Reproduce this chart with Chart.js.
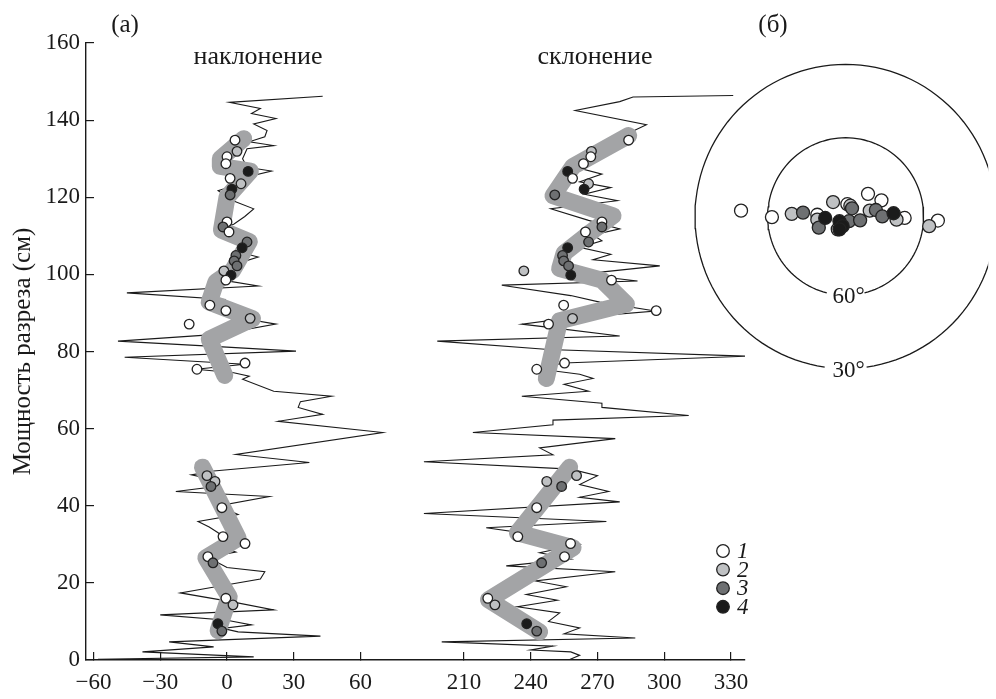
<!DOCTYPE html>
<html>
<head>
<meta charset="utf-8">
<script src="https://cdn.jsdelivr.net/npm/chart.js@4.4.1/dist/chart.umd.min.js"></script>
<style>
  html, body { margin: 0; padding: 0; background: #fff; }
  #wrap { position: relative; width: 996px; height: 699px; }
  #main { position: absolute; left: 0; top: 0; }
  #net { position: absolute; left: 660px; top: 0; }
</style>
</head>
<body>
<div id="wrap">
  <canvas id="main" width="996" height="699"></canvas>
  <canvas id="net" width="336" height="420"></canvas>
</div>
<script>
// --- inclination curve (depth cm, degrees)
const incDepth = [0.2, 0.8, 2.1, 3.4, 4.7, 6.2, 7.3, 8.2, 9.1, 10.3, 11.7, 13, 15, 17.4, 18.8, 21, 22.9, 24, 25.2, 26.5, 28, 29.5, 31, 33, 34.5, 35.9, 37.7, 39, 40.3, 42.4, 43.7, 45, 46.5, 48, 49, 51.2, 53.3, 59, 61.9, 63.7, 65.5, 67, 68.4, 69.7, 72.8, 73.6, 74.5, 75.4, 76.7, 78.5, 80.1, 81.2, 82.7, 84.5, 87.1, 88.5, 90, 92.5, 93.5, 95.2, 97, 98.5, 100.5, 102.5, 104.5, 106, 108, 110, 111.3, 113, 115, 117, 119, 121.7, 123, 125, 126.8, 127.8, 130, 132.6, 133.4, 134.4, 135.7, 137.3, 139, 140.4, 141.7, 143, 144.6, 146.2];
const incValue = [-58, 12, -38, -6, -26, 42, 5, -2, 11, 0, -30, 21, 3, -21, -7, 15, 17, 0, -4, -10, 4, -3, 0, -4, -8, -13, 5, 0, -1, 19, -23, -5, -4, -16, -6, 37, 4, 70, 23, 43, 32, 33, 47, 21, 7, 10, 3, -14, 8, -46, 31, -2, -49, -3, 22, 8, 5, -3, -1, -45, 14, -2, 4, 3, 14, 4, 8, 4, -5, 3, 8, 12, 3, -4, 3, 7, 20, 9, 7, 9, 21, 10, 17, 18, 12, 22, 11, 15, 1, 43];

// --- declination curve
const decDepth = [0, 1.2, 2.1, 2.6, 3.6, 4.7, 5.7, 6.8, 8.3, 10, 12.2, 13.8, 15.5, 17, 19, 20.5, 22.9, 24.4, 26.2, 27.8, 30, 32, 34.3, 35.9, 38, 41, 42.2, 43.7, 45.5, 47.8, 49.5, 51.4, 53.2, 55, 57.4, 59, 61, 62.2, 63.4, 65.5, 66.6, 68.4, 69.7, 71.5, 73, 74.1, 75.6, 77, 78.8, 80.5, 82.7, 84, 86, 87.1, 88.6, 90.5, 92.8, 94.5, 97.2, 98.3, 100, 102.2, 103.8, 105.2, 107, 108.7, 110.2, 111.8, 114, 117, 119.1, 120.8, 122.5, 124, 126, 127.5, 129.5, 132, 135, 138.8, 142.5, 144.8, 146, 146.4];
const decValue = [257, 262, 258, 240, 250, 200, 287, 255, 262, 248, 253, 234, 252, 238, 256, 242, 278, 229, 258, 244, 262, 248, 220, 274, 192, 280, 262, 275, 262, 270, 258, 192, 250, 244, 278, 214, 250, 250, 311, 272, 272, 236, 266, 255, 268, 262, 242, 255, 337, 248, 198, 280, 252, 236, 256, 296, 271, 258, 227, 288, 262, 298, 268, 276, 262, 272, 268, 280, 266, 249, 279, 264, 276, 262, 272, 262, 268, 272, 278, 292, 260, 280, 286, 331];

// --- smoothed trends (thick gray)
const incTrendUpperDepth = [135.2, 130, 128, 126.8, 120, 111.5, 108.5, 101, 98, 92.8, 88.5, 83.2, 73.8];
const incTrendUpper = [7.5, -3, -3, 10.5, 0, -2.5, 10, 2.5, -5, -8, 11.5, -8, -1];
const incTrendLowerDepth = [50, 31.6, 26.5, 16.4, 7.6];
const incTrendLower = [-11, 5, -9.5, 1, -4];
const decTrendUpperDepth = [136, 128, 120.4, 115.2, 110.5, 105.5, 101.5, 98.5, 92.3, 88, 73];
const decTrendUpper = [284, 259, 250, 277, 266, 255, 253, 272, 283, 253, 247];
const decTrendLowerDepth = [50, 33, 29.1, 15.6, 7.3];
const decTrendLower = [257.5, 234, 259, 221, 244];

// --- samples: depth, inclination, declination, group 1..4
const sampleDepth = [134.8, 131.9, 130.5, 128.7, 126.7, 124.9, 123.5, 122.1, 120.6, 113.6, 112.3, 111, 108.4, 106.9, 104.9, 103.5, 102.2, 100.9, 99.8, 98.5, 92, 90.6, 88.6, 87.1, 77, 75.4, 47.8, 46.3, 45, 39.5, 32, 30.2, 26.8, 25.2, 16, 14.3, 9.4, 7.5];
const sampleInc = [3.6, 4.5, 0, -0.5, 9.5, 1.4, 6.3, 2.2, 1.4, 0, -1.8, 0.9, 9, 6.8, 4, 3.2, 4.5, -1.4, 1.8, -0.5, -7.7, -0.5, 10.4, -17, 8.1, -13.5, -9, -5.4, -7.2, -2.3, -1.8, 8.1, -8.6, -6.3, -0.5, 2.7, -4.1, -2.3];
const sampleDec = [284, 267.3, 267, 263.7, 256.6, 258.8, 266, 264, 250.8, 272, 272, 264.6, 266, 256.6, 254.3, 254.8, 257, 236.9, 258, 276.3, 254.8, 296.4, 258.8, 248, 255.2, 242.7, 260.6, 247.2, 253.9, 242.7, 234.2, 257.9, 255.2, 244.9, 220.7, 223.9, 238.2, 242.7];
const sampleGroup = [1, 2, 1, 1, 4, 1, 2, 4, 3, 1, 3, 1, 3, 4, 3, 3, 3, 2, 4, 1, 1, 1, 2, 1, 1, 1, 2, 2, 3, 1, 1, 1, 1, 3, 1, 2, 4, 3];

// --- stereonet (equal-area units, x east, y north)
const netX = [-0.491, -0.346, -0.253, -0.2, -0.133, -0.133, -0.126, -0.096, -0.059, 0.008, 0.022, 0.03, -0.037, -0.029, -0.014, -0.029, 0.016, 0.068, 0.105, 0.168, 0.113, 0.142, 0.172, 0.225, 0.239, 0.277, 0.392, 0.433];
const netY = [0.027, -0.003, 0.012, 0.018, 0.008, -0.015, -0.052, -0.007, 0.067, 0.057, 0.05, 0.038, -0.06, -0.022, -0.045, -0.06, -0.022, -0.018, 0.105, 0.075, 0.027, 0.03, 0, 0.015, -0.015, -0.007, -0.045, -0.019];
const netGroup = [1, 1, 2, 3, 1, 2, 3, 4, 2, 1, 2, 3, 1, 4, 4, 4, 3, 3, 1, 1, 2, 3, 3, 4, 2, 1, 2, 1];
const netCircles = [60, 30];

const incTicks = [-60, -30, 0, 30, 60];
const decTicks = [210, 240, 270, 300, 330];
const groupLabels = ["1", "2", "3", "4"];
const groupColors = ["#ffffff", "#bfc1c3", "#6e7072", "#1b1b1b"];

const SERIF = "'Liberation Serif', 'Times New Roman', serif";
const INK = "#1a1a1a";
const DEC_SHIFT = 103.5; // declination panel sits on the same axis, shifted

function xy(vals, depths, shift) {
  return vals.map((v, i) => ({ x: v - shift, y: depths[i] }));
}

function trend(vals, depths, shift) {
  return {
    data: xy(vals, depths, shift),
    showLine: true,
    borderColor: "#a3a4a6",
    borderWidth: 17,
    borderCapStyle: "round",
    borderJoinStyle: "round",
    pointRadius: 0,
  };
}

function thin(vals, depths, shift) {
  return {
    data: xy(vals, depths, shift),
    showLine: true,
    borderColor: INK,
    borderWidth: 1.1,
    pointRadius: 0,
  };
}

function samples(vals, shift) {
  return {
    data: xy(vals, sampleDepth, shift),
    pointRadius: 4.8,
    pointBorderWidth: 1.3,
    pointBorderColor: "#222",
    pointBackgroundColor: sampleGroup.map((g) => groupColors[g - 1]),
  };
}

const labelsPlugin = {
  id: "labels",
  afterDraw(chart) {
    const ctx = chart.ctx;
    ctx.save();
    ctx.fillStyle = INK;
    ctx.textBaseline = "middle";
    ctx.textAlign = "center";
    ctx.font = "25px " + SERIF;
    ctx.fillText("(а)", 125, 25);
    ctx.font = "26px " + SERIF;
    ctx.fillText("наклонение", 258, 57);
    ctx.fillText("склонение", 595, 57);

    // legend
    groupLabels.forEach((lab, i) => {
      const y = 551 + i * 18.6;
      ctx.beginPath();
      ctx.arc(723, y, 6.3, 0, Math.PI * 2);
      ctx.fillStyle = groupColors[i];
      ctx.fill();
      ctx.lineWidth = 1.3;
      ctx.strokeStyle = "#222";
      ctx.stroke();
      ctx.fillStyle = INK;
      ctx.textAlign = "left";
      ctx.font = "italic 23px " + SERIF;
      ctx.fillText(lab, 737, y + 1);
    });
    ctx.restore();
  },
};

new Chart(document.getElementById("main"), {
  type: "scatter",
  data: {
    datasets: [
      samples(sampleInc, 0),
      samples(sampleDec, DEC_SHIFT),
      trend(incTrendUpper, incTrendUpperDepth, 0),
      trend(incTrendLower, incTrendLowerDepth, 0),
      trend(decTrendUpper, decTrendUpperDepth, DEC_SHIFT),
      trend(decTrendLower, decTrendLowerDepth, DEC_SHIFT),
      thin(incValue, incDepth, 0),
      thin(decValue, decDepth, DEC_SHIFT),
    ],
  },
  options: {
    responsive: false,
    animation: false,
    layout: { padding: { left: 0, top: 43, right: 251, bottom: 0 } },
    plugins: { legend: { display: false }, tooltip: { enabled: false } },
    scales: {
      x: {
        type: "linear",
        min: -63.37,
        max: 232.8,
        afterFit: (s) => { s.height = 39; },
        afterBuildTicks: (s) => {
          s.ticks = incTicks.concat(decTicks.map((v) => v - DEC_SHIFT)).map((v) => ({ value: v }));
        },
        ticks: {
          autoSkip: false,
          maxRotation: 0,
          padding: 17,
          color: INK,
          font: { family: SERIF, size: 23 },
          callback: (v) => {
            if (v > 90) return String(Math.round(v + DEC_SHIFT));
            return v < 0 ? "\u2212" + Math.abs(v) : String(v);
          },
        },
        grid: { drawOnChartArea: false, drawTicks: true, tickLength: -8, color: INK, lineWidth: 1.2 },
        border: { color: INK, width: 1.4 },
      },
      y: {
        type: "linear",
        min: 0,
        max: 160,
        afterFit: (s) => { s.width = 86; },
        ticks: {
          stepSize: 20,
          padding: 14,
          color: INK,
          font: { family: SERIF, size: 23 },
        },
        title: {
          display: true,
          text: "Мощность разреза (см)",
          color: INK,
          font: { family: SERIF, size: 25 },
          padding: { top: 8, bottom: 0 },
        },
        grid: { drawOnChartArea: false, drawTicks: true, tickLength: -8, color: INK, lineWidth: 1.2 },
        border: { color: INK, width: 1.4 },
      },
    },
  },
  plugins: [labelsPlugin],
});

// --- stereonet
function eqArea(inc) {
  return Math.SQRT2 * Math.sin(((90 - inc) / 2) * Math.PI / 180);
}

function arc(r, gap) {
  const out = [];
  for (let a = gap; a <= 360 - gap + 0.001; a += (360 - 2 * gap) / 120) {
    const t = a * Math.PI / 180;
    out.push({ x: -r * Math.sin(t), y: -r * Math.cos(t) });
  }
  return out;
}

const netGaps = [14, 8];
const netSets = [4, 3, 2, 1].map((g) => ({
  data: netX.map((x, i) => ({ x: x, y: netY[i], g: netGroup[i] })).filter((p) => p.g === g),
  pointRadius: 6.5,
  pointBorderWidth: 1.3,
  pointBorderColor: "#222",
  pointBackgroundColor: groupColors[g - 1],
}));
netCircles.forEach((inc, i) => {
  netSets.push({
    data: arc(eqArea(inc), netGaps[i]),
    showLine: true,
    borderColor: INK,
    borderWidth: 1.3,
    pointRadius: 0,
  });
});

const netLabels = {
  id: "netLabels",
  afterDraw(chart) {
    const ctx = chart.ctx;
    const sx = chart.scales.x, sy = chart.scales.y;
    ctx.save();
    ctx.fillStyle = INK;
    ctx.textAlign = "center";
    ctx.textBaseline = "middle";
    ctx.font = "23px " + SERIF;
    netCircles.forEach((inc) => {
      ctx.fillText(inc + "°", sx.getPixelForValue(0) + 3, sy.getPixelForValue(-eqArea(inc)) + 2);
    });
    ctx.font = "25px " + SERIF;
    ctx.fillText("(б)", 113, 25);
    ctx.restore();
  },
};

new Chart(document.getElementById("net"), {
  type: "scatter",
  data: { datasets: netSets },
  options: {
    responsive: false,
    animation: false,
    layout: { padding: 0 },
    plugins: { legend: { display: false }, tooltip: { enabled: false } },
    scales: {
      x: { type: "linear", display: false, min: -0.8348, max: 0.6692 },
      y: { type: "linear", display: false, min: -0.910, max: 0.970 },
    },
  },
  plugins: [netLabels],
});
</script>
</body>
</html>
